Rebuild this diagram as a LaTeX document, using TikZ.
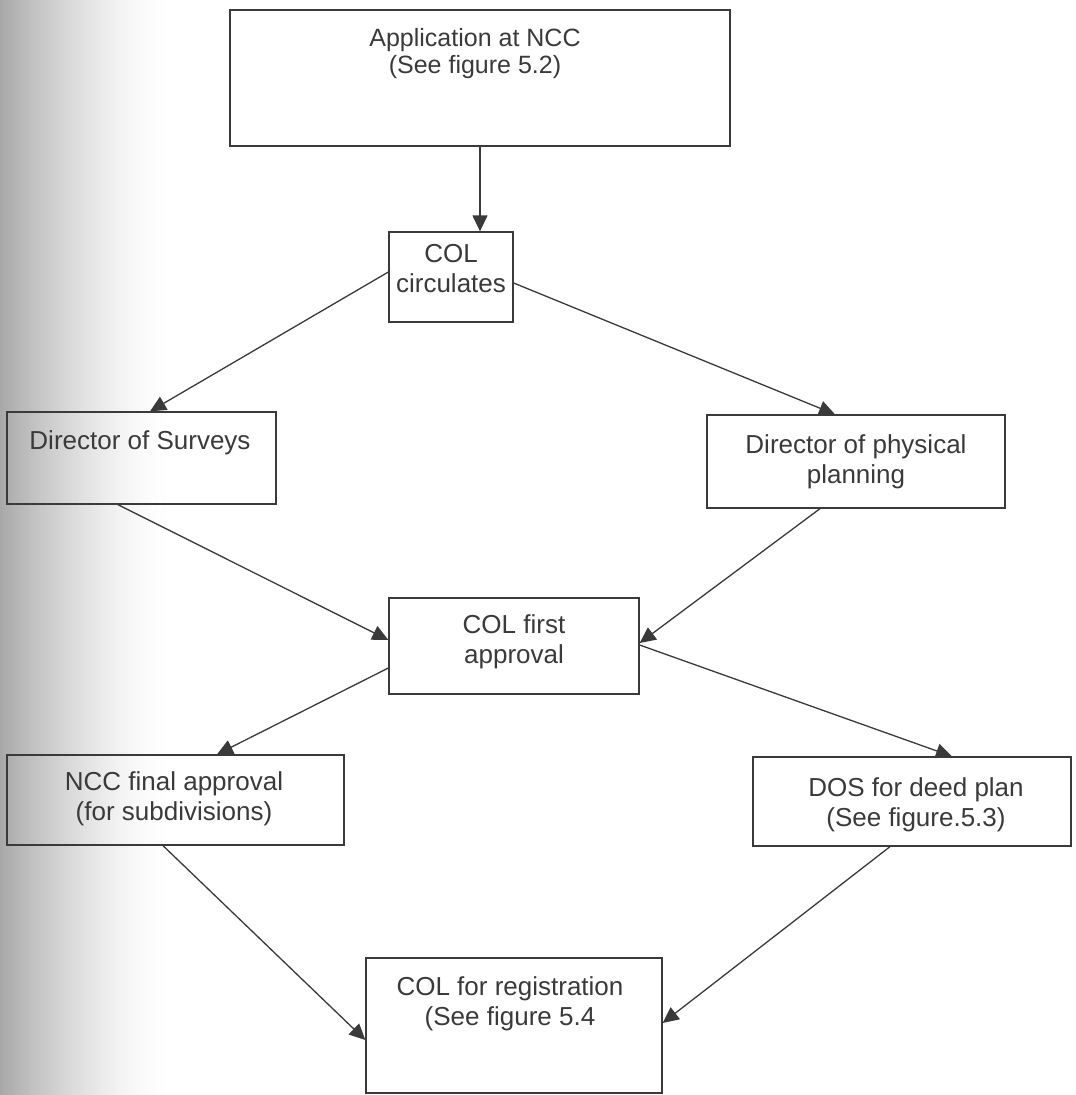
\documentclass[tikz,border=0pt]{standalone}
\usepackage{fontspec}
\setmainfont{Liberation Sans}
\usetikzlibrary{arrows.meta,calc}
\definecolor{ink}{HTML}{3A3A3A}
\begin{document}
\begin{tikzpicture}[x=1pt,y=-1pt,
  box/.style={draw=ink,line width=1.3pt,minimum width=#1,inner sep=0pt},
  boxh/.style={minimum height=#1},
  txt/.style={text=ink,align=center,anchor=base,inner sep=0pt,
    font=\fontsize{26}{30}\selectfont},
  flow/.style={draw=ink,line width=1.3pt,-{Triangle[length=16pt,width=15pt]}}]
% page and soft grey shadow along the left edge, built from thin strips
\useasboundingbox (0,0) rectangle (1076,1095);
\fill[white] (0,0) rectangle (1076,1095);
\foreach \i in {0,...,84}{
  \pgfmathsetmacro{\shadeamt}{34*(1-\i/85)^1.6}
  \fill[black!\shadeamt] (2*\i,0) rectangle (2*\i+2.2,1095);
}

% boxes
\node[box=500pt,boxh=136pt] (app)   at (480,78)     {};
\node[box=124pt,boxh=90pt]  (circ)  at (451,277)    {};
\node[box=269pt,boxh=92pt]  (surv)  at (141.5,458)  {};
\node[box=298pt,boxh=93pt]  (plan)  at (856,461.5)  {};
\node[box=250pt,boxh=96pt]  (first) at (514,646)    {};
\node[box=337pt,boxh=90pt]  (ncc)   at (175.5,800)  {};
\node[box=318pt,boxh=89pt]  (dos)   at (912,801.5)  {};
\node[box=296pt,boxh=135pt] (reg)   at (514,1025.5) {};

% labels (anchored on the baseline of their last line)
\node[txt,font=\fontsize{25}{27}\selectfont] (tapp) at (475,73) {Application at NCC\\(See figure 5.2)};
\node[txt] (tcirc)  at (451,292)    {COL\\circulates};
\node[txt] (tsurv)  at (140,449)    {Director of Surveys};
\node[txt] (tplan)  at (856,483)    {Director of physical\\planning};
\node[txt] (tfirst) at (514,663)    {COL first\\approval};
\node[txt] (tncc)   at (174,820)    {NCC final approval\\(for subdivisions)};
\node[txt] (tdos)   at (916,826.7)  {DOS for deed plan\\(See figure.5.3)};
\node[txt] (treg)   at (510,1025.7) {COL for registration\\(See figure 5.4};

% connectors
\draw[flow] (app.south) -- (app.south |- circ.north);
\draw[flow] ([yshift=5pt]circ.west) -- ([xshift=8.5pt]surv.north);
\draw[flow] ([yshift=-6pt]circ.east) -- ([xshift=-21pt]plan.north);
\draw[flow] ([xshift=-23.5pt]surv.south) -- ([yshift=6pt]first.west);
\draw[flow] ([xshift=-36pt]plan.south) -- ([yshift=3pt]first.east);
\draw[flow] ([yshift=-22pt]first.west) -- ([xshift=41.5pt]ncc.north);
\draw[flow] ([yshift=1pt]first.east) -- ([xshift=40pt]dos.north);
\draw[flow] ([xshift=-12.5pt]ncc.south) -- ([yshift=-14.5pt]reg.west);
\draw[flow] ([xshift=-22pt]dos.south) -- ([yshift=2.5pt]reg.east);
\end{tikzpicture}
\end{document}
